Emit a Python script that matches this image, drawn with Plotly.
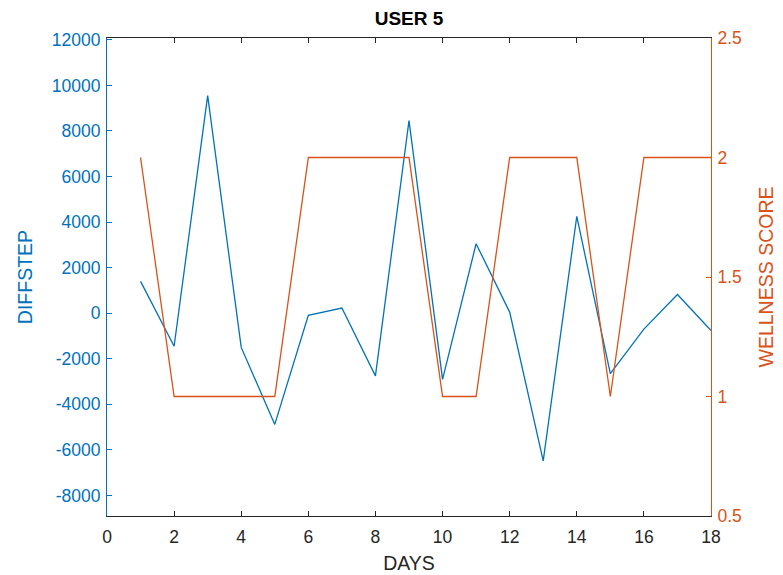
import plotly.graph_objects as go

days = list(range(1, 19))
diffstep = [1400, -1450, 9550, -1500, -4880, -90, 230, -2750, 8450, -2900,
            3050, 50, -6480, 4250, -2650, -700, 820, -760]
wellness = [2, 1, 1, 1, 1, 2, 2, 2, 2, 1, 1, 2, 2, 2, 1, 2, 2, 2]

x_ticks = [0, 2, 4, 6, 8, 10, 12, 14, 16, 18]
left_ticks = [-8000, -6000, -4000, -2000, 0, 2000, 4000, 6000, 8000, 10000, 12000]
left_labels = [str(v) for v in left_ticks]
right_ticks = [0.5, 1, 1.5, 2, 2.5]
right_labels = ["0.5", "1", "1.5", "2", "2.5"]

BLUE = "#0072BD"
ORANGE = "#D95319"
DARK = "#262626"
FONT = "Liberation Sans, Arial, sans-serif"

fig = go.Figure()
fig.add_trace(go.Scatter(x=days, y=diffstep, mode="lines",
                         line=dict(color=BLUE, width=1.3), yaxis="y",
                         showlegend=False))
fig.add_trace(go.Scatter(x=days, y=wellness, mode="lines",
                         line=dict(color=ORANGE, width=1.3), yaxis="y2",
                         showlegend=False))

fig.update_layout(
    width=775, height=567,
    margin=dict(l=99, r=72, t=30, b=59),
    paper_bgcolor="white", plot_bgcolor="white",
    font=dict(family=FONT, size=17.5, color=DARK),
    title=dict(text="<b>USER 5</b>", x=0.5, xref="paper", xanchor="center",
               y=1, yref="container", yanchor="top", pad=dict(t=4),
               font=dict(size=19, color="#000000")),
    xaxis=dict(range=[0, 18], tickvals=x_ticks, ticks="inside", ticklen=5,
               tickcolor=DARK, linecolor=DARK, linewidth=1, mirror="ticks",
               showgrid=False, zeroline=False, automargin=False,
               tickfont=dict(size=17.5, color=DARK), ticklabelstandoff=5,
               title=dict(text="DAYS", font=dict(size=19.5, color=DARK), standoff=10)),
    yaxis=dict(range=[-8900, 12080], tickvals=left_ticks, ticktext=left_labels,
               ticks="inside", ticklen=5, automargin=False,
               tickcolor=BLUE, linecolor=BLUE, linewidth=1, showgrid=False,
               zeroline=False, tickfont=dict(size=17.5, color=BLUE),
               ticklabelstandoff=2,
               title=dict(text="DIFFSTEP", font=dict(size=19.5, color=BLUE), standoff=14)),
    yaxis2=dict(range=[0.5, 2.5], tickvals=right_ticks, ticktext=right_labels,
                overlaying="y", side="right", ticks="inside", ticklen=5,
                automargin=False,
                tickcolor=ORANGE, linecolor=ORANGE, linewidth=1, showgrid=False,
                zeroline=False, tickfont=dict(size=17.5, color=ORANGE),
                ticklabelstandoff=2,
                title=dict(text="WELLNESS SCORE", font=dict(size=19.5, color=ORANGE), standoff=18)),
)

fig.write_html("out.html")
